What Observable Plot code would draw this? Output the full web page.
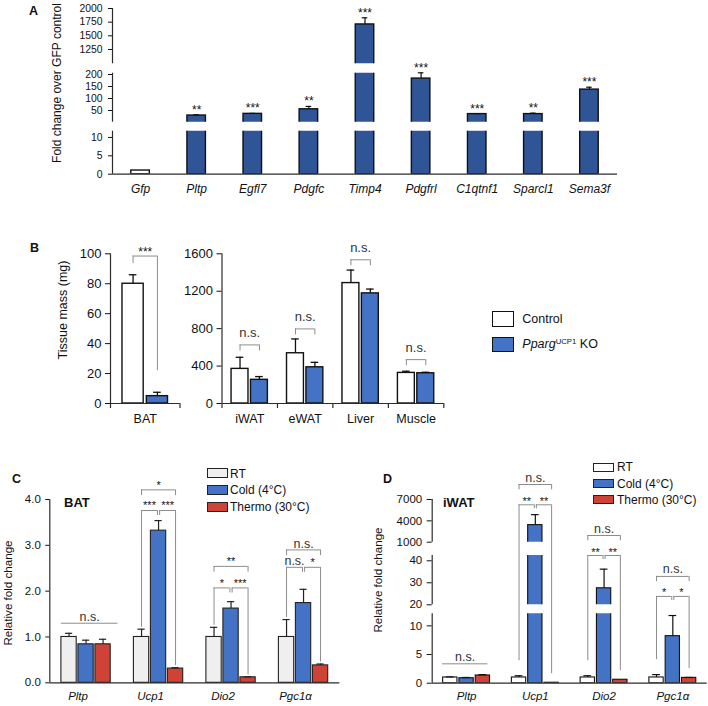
<!DOCTYPE html>
<html>
<head>
<meta charset="utf-8">
<script src="https://cdn.jsdelivr.net/npm/d3@7"></script>
<script src="https://cdn.jsdelivr.net/npm/@observablehq/plot@0.6"></script>
<style>
  html, body { margin: 0; padding: 0; background: #fff; }
  #fig { position: relative; width: 708px; height: 706px; overflow: hidden; background: #fff;
         font-family: Arial, "Liberation Sans", Helvetica, sans-serif; color: #111; }
  #fig svg { position: absolute; left: 0; top: 0; }
  .lbl { position: absolute; white-space: nowrap; line-height: 1; }
  .sw { position: absolute; box-sizing: border-box; }
  sup { font-size: 0.62em; vertical-align: 0; position: relative; top: -0.55em; font-style: normal; }
</style>
</head>
<body>
<div id="fig"></div>
<script>
// ======================= DATA =======================
// Panel A – fold change over GFP control
const genesA = ["Gfp", "Pltp", "Egfl7", "Pdgfc", "Timp4", "Pdgfrl", "C1qtnf1", "Sparcl1", "Sema3f"];
const foldA  = [1, 29, 36, 55, 1708, 183, 35, 35, 137];
const errA   = [0, 3, 2, 12, 122, 24, 2, 4, 10];
const sigA   = ["", "**", "***", "**", "***", "***", "***", "**", "***"];
const domainsA = [[0, 11.7], [1.25, 205.4], [988, 2000]];
const ticksA   = [[0, 5, 10], [50, 100, 150, 200], [1250, 1500, 1750, 2000]];

// Panel B – tissue mass (mg)
const tissuesB   = ["BAT", "iWAT", "eWAT", "Liver", "Muscle"];
const groupsB    = ["Control", "KO"];
const massCtrl    = [80, 370, 537, 1287, 327];
const massCtrlErr = [6, 124, 153, 139, 18];
const massKO      = [4.9, 253, 387, 1177, 323];
const massKOErr   = [2.6, 35, 53, 46, 11];
const sigB        = ["***", "n.s.", "n.s.", "n.s.", "n.s."];
const levelB      = [98.5, 626, 797, 1536, 469];
const legEndB     = 22;   // BAT bracket: right leg end (mg)
const ticksBL = [0, 20, 40, 60, 80, 100];
const ticksBR = [0, 400, 800, 1200, 1600];

// Panels C & D – relative fold change
const genesCD = ["Pltp", "Ucp1", "Dio2", "Pgc1α"];
const conds   = ["RT", "Cold (4°C)", "Thermo (30°C)"];
// C: BAT
const batRT        = [1.00, 1.00, 1.00, 1.00];
const batRTErr     = [0.08, 0.17, 0.21, 0.38];
const batCold      = [0.84, 3.32, 1.62, 1.74];
const batColdErr   = [0.09, 0.22, 0.15, 0.30];
const batThermo    = [0.84, 0.31, 0.12, 0.38];
const batThermoErr = [0.11, 0.02, 0.01, 0.03];
const sigC_RTvsCold     = [null, "***", "*", "n.s."];
const sigC_ColdvsThermo = [null, "***", "***", "*"];
const sigC_RTvsThermo   = ["n.s.", "*", "**", "n.s."];
const levelC_pair  = [null, 3.76, 2.07, 2.52];
const levelC_outer = [1.30, 4.21, 2.54, 2.90];
const ticksC = [0, 1, 2, 3, 4];
// D: iWAT
const iwatRT        = [1.0, 1.0, 1.0, 1.0];
const iwatRTErr     = [0.1, 0.3, 0.3, 0.5];
const iwatCold      = [0.87, 3400, 27.5, 8.2];
const iwatColdErr   = [0.13, 1470, 8.7, 3.6];
const iwatThermo    = [1.34, 0.08, 0.6, 0.93];
const iwatThermoErr = [0.16, 0, 0, 0.07];
const sigD_RTvsCold     = [null, "**", "**", "*"];
const sigD_ColdvsThermo = [null, "**", "**", "*"];
const sigD_RTvsThermo   = ["n.s.", "n.s.", "n.s.", "n.s."];
const levelD_pair  = [null, 6255, 42.4, 23.8];
const levelD_outer = [3.38, 9107, 1941, 32.9];
const domainsD = [[0, 12.1], [20, 42.4], [1000, 7000]];
const ticksD   = [[0, 5, 10], [20, 30, 40], [1000, 4000, 7000]];

// ======================= STYLE / LAYOUT =======================
const FONT = 'Arial, "Liberation Sans", Helvetica, sans-serif';
const W = 708, H = 706;
const AXIS = "#2b2b2b", BR = "#8c8c8c", INK = "#111";
const COL = { blueA: "#2f5597", blue: "#4472c4", red: "#cf4236", rtC: "#efefef", white: "#ffffff" };
const fillC = [COL.rtC, COL.blue, COL.red];
const fillD = [COL.white, COL.blue, COL.red];

const fig = document.getElementById("fig");
const frame = (x0, x1, y0, y1) => ({ width: W, height: H, marginLeft: x0, marginRight: W - x1, marginTop: y0, marginBottom: H - y1 });

function addPlot(opts, fontSize = 12) {
  const svg = Plot.plot({
    ...opts,
    style: { background: "transparent", overflow: "visible", fontFamily: FONT, fontSize: fontSize + "px", color: INK }
  });
  svg.style.position = "absolute"; svg.style.left = "0px"; svg.style.top = "0px";
  fig.appendChild(svg);
  return svg;
}

function label(text, x, y, o = {}) {
  const d = document.createElement("div");
  d.className = "lbl";
  d.style.left = x + "px"; d.style.top = y + "px";
  d.style.fontSize = (o.size || 12) + "px";
  if (o.bold) d.style.fontWeight = "bold";
  if (o.italic) d.style.fontStyle = "italic";
  const tx = o.anchor === "center" ? "-50%" : o.anchor === "right" ? "-100%" : "0";
  d.style.transform = o.rotate ? "translate(-50%,-50%) rotate(-90deg)" : `translate(${tx},-50%)`;
  if (o.html) d.innerHTML = text; else d.textContent = text;
  fig.appendChild(d);
}
function swatch(x, y, w, h, fill, border) {
  const d = document.createElement("div");
  d.className = "sw";
  Object.assign(d.style, { left: x + "px", top: y + "px", width: w + "px", height: h + "px", background: fill, border });
  fig.appendChild(d);
}

// significance brackets: horizontal rule, legs (short = fixed px, long = down to a value), label
function bracketMarks(brs, o) {
  const legs = brs.flatMap(b => (b.legs || []).map(l => ({
    x: l.x, y1: b.level, y2: l.end == null ? b.level : l.end, inset: l.end == null ? -l.len : (l.gap || 0)
  })));
  const groups = d3.groups(legs, d => d.inset);
  const isNS = b => b.label === "n.s.";
  return [
    Plot.ruleY(brs, { y: "level", x1: "xa", x2: "xb", stroke: BR, strokeWidth: 1 }),
    ...groups.map(([inset, ls]) => Plot.ruleX(ls, { x: "x", y1: "y1", y2: "y2", insetBottom: inset, stroke: BR, strokeWidth: 1 })),
    Plot.text(brs.filter(b => b.label && !isNS(b)), { x: b => (b.xa + b.xb) / 2, y: "level", text: "label",
      lineAnchor: "bottom", dy: o.starDy, fontSize: o.starSize, fill: INK }),
    Plot.text(brs.filter(isNS), { x: b => (b.xa + b.xb) / 2, y: "level", text: "label",
      lineAnchor: "bottom", dy: o.nsDy, fontSize: o.nsSize, fill: "#333" })
  ];
}

// one segment of a broken-axis bar chart
function segmentPlot(cfg, seg, k) {
  const [lo, hi] = seg.domain;
  const nextLo = k < cfg.segs.length - 1 ? cfg.segs[k + 1].domain[0] : Infinity;
  const here = d => d.v > lo && d.v <= nextLo;
  const base = k === 0 ? lo : lo - (hi - lo);
  const xOf = cfg.xOf, bw = cfg.bw, cap = cfg.cap;
  const withErr = cfg.rows.filter(d => here(d) && d.e > 0);
  return addPlot({
    ...frame(cfg.x0, cfg.x1, seg.y0, seg.y1),
    x: { domain: [0, cfg.n], axis: null },
    y: { domain: seg.domain, ticks: seg.ticks, tickSize: cfg.tickSize, tickPadding: cfg.tickPadding,
         tickFormat: d3.format("d"), label: null },
    marks: [
      Plot.rect(cfg.rows.filter(d => d.v > lo), { x1: d => xOf(d) - bw / 2, x2: d => xOf(d) + bw / 2,
        y1: base, y2: "v", fill: cfg.fillOf, stroke: INK, strokeWidth: cfg.sw, clip: true }),
      Plot.ruleX(withErr, { x: xOf, y1: "v", y2: d => d.v + d.e, stroke: INK, strokeWidth: 1.2 }),
      Plot.ruleY(withErr, { y: d => d.v + d.e, x1: d => xOf(d) - cap, x2: d => xOf(d) + cap, stroke: INK, strokeWidth: 1.2 }),
      Plot.ruleX([0], { y1: lo, y2: hi, stroke: AXIS, strokeWidth: 1.2 }),
      ...(cfg.extra ? cfg.extra(here, k) : [])
    ]
  }, cfg.fontSize);
}

// ======================= PANEL A =======================
const rowsA = genesA.map((gene, i) => ({ gene, i, v: foldA[i], e: errA[i], sig: sigA[i] }));
const pxA = [[130.7, 173.7], [72.7, 121.7], [8, 63.3]];
const cfgA = {
  x0: 112, x1: 617, n: genesA.length, rows: rowsA, xOf: d => d.i + 0.5, bw: 0.33, cap: 0.05,
  fillOf: d => d.i === 0 ? COL.white : COL.blueA, sw: 1.4, tickSize: 4, tickPadding: 6, fontSize: 10.4,
  segs: domainsA.map((domain, k) => ({ domain, ticks: ticksA[k], y0: pxA[k][0], y1: pxA[k][1] })),
  extra: (here, k) => [
    Plot.text(rowsA.filter(d => here(d) && d.sig), { x: d => d.i + 0.5, y: d => d.v + d.e, text: "sig",
      lineAnchor: "bottom", dy: -1, fontSize: 12 }),
    ...(k === 0 ? [
      Plot.ruleY([0], { stroke: AXIS, strokeWidth: 1.2 }),
      Plot.text(rowsA, { x: d => d.i + 0.5, text: "gene", frameAnchor: "bottom", lineAnchor: "middle",
        dy: 14.5, fontStyle: "italic", fontSize: 12 })
    ] : [])
  ]
};
cfgA.segs.forEach((s, k) => segmentPlot(cfgA, s, k));

// ======================= PANEL B =======================
const rowsB = tissuesB.flatMap((t, i) => [
  { t, i, grp: 0, v: massCtrl[i], e: massCtrlErr[i] },
  { t, i, grp: 1, v: massKO[i], e: massKOErr[i] }
]);
const offB = 0.175, bwB = 0.305;
function panelB(rows, gOf, n, x0, x1, domain, ticks, cap, brackets, nsDy) {
  const xOf = d => gOf(d) + 0.5 + (d.grp ? offB : -offB);
  const cats = [...new Set(rows.map(d => d.t))];
  addPlot({
    ...frame(x0, x1, 253.3, 403),
    x: { domain: [0, n], axis: null },
    y: { domain, ticks, tickSize: 5, tickPadding: 4, tickFormat: d3.format("d"), label: null },
    marks: [
      Plot.rect(rows, { x1: d => xOf(d) - bwB / 2, x2: d => xOf(d) + bwB / 2, y1: 0, y2: "v",
        fill: d => d.grp ? COL.blue : COL.white, stroke: INK, strokeWidth: 1.4 }),
      Plot.ruleX(rows, { x: xOf, y1: "v", y2: d => d.v + d.e, stroke: INK, strokeWidth: 1.3 }),
      Plot.ruleY(rows, { y: d => d.v + d.e, x1: d => xOf(d) - cap, x2: d => xOf(d) + cap, stroke: INK, strokeWidth: 1.3 }),
      Plot.ruleX([0], { y1: domain[0], y2: domain[1], stroke: AXIS, strokeWidth: 1.2 }),
      Plot.ruleY([0], { stroke: AXIS, strokeWidth: 1.2 }),
      Plot.ruleX(d3.range(n + 1), { x: d => d, y1: 0, y2: 0, insetBottom: -5, stroke: AXIS, strokeWidth: 1.2 }),
      Plot.text(cats, { x: (d, i) => i + 0.5, text: d => d, frameAnchor: "bottom", lineAnchor: "middle", dy: 15.5, fontSize: 12.5 }),
      ...bracketMarks(brackets, { starDy: 0, starSize: 12, nsDy: nsDy, nsSize: 13 })
    ]
  }, 13);
}
// left: BAT
{
  const rows = rowsB.filter(d => d.i === 0);
  const xa = 0.5 - offB, xb = 0.5 + offB;
  const br = [{ xa, xb, level: levelB[0], label: sigB[0],
    legs: [{ x: xa, len: 7.5 }, { x: xb, end: legEndB }] }];
  panelB(rows, d => 0, 1, 110, 179.5, [0, 100], ticksBL, 0.055, br, -8);
}
// right: other tissues
{
  const rows = rowsB.filter(d => d.i > 0);
  const br = tissuesB.slice(1).map((t, g) => ({ xa: g + 0.5 - offB, xb: g + 0.5 + offB, level: levelB[g + 1], label: sigB[g + 1],
    legs: [{ x: g + 0.5 - offB, len: 6 }, { x: g + 0.5 + offB, len: 6 }] }));
  panelB(rows, d => d.i - 1, 4, 221.5, 443.3, [0, 1600], ticksBR, 0.069, br, -8);
}

// ======================= PANEL C =======================
const stepC = 0.2345, bwC = 0.211, capC = 0.05;
const meanC = [batRT, batCold, batThermo], errC = [batRTErr, batColdErr, batThermoErr];
const rowsC = genesCD.flatMap((gene, gi) => conds.map((c, j) => ({ gene, gi, j, v: meanC[j][gi], e: errC[j][gi] })));
const xC = d => d.gi + 0.5 + (d.j - 1) * stepC;

function buildBrackets(meanArr, errArr, step, pairLv, outerLv, s1, s2, s3, o) {
  const out = [];
  genesCD.forEach((g, gi) => {
    const c = gi + 0.5;
    if (pairLv[gi] == null) {
      out.push({ xa: c + o.nsLeft, xb: c + o.nsRight, level: outerLv[gi], label: s3[gi], legs: [] });
      return;
    }
    const xr = c - step, xt = c + step;
    const topR = meanArr[0][gi] + errArr[0][gi], topT = meanArr[2][gi] + errArr[2][gi];
    out.push({ xa: xr, xb: c - 0.015, level: pairLv[gi], label: s1[gi],
      legs: [{ x: xr, end: topR, gap: o.gapR }, { x: c - 0.015, len: o.midLen }] });
    out.push({ xa: c + 0.015, xb: xt, level: pairLv[gi], label: s2[gi],
      legs: [{ x: c + 0.015, len: o.midLen }, { x: xt, end: topT, gap: o.gapT }] });
    out.push({ xa: xr, xb: xt, level: outerLv[gi], label: s3[gi],
      legs: [{ x: xr, len: o.topLen }, { x: xt, len: o.topLen }] });
  });
  return out;
}

const bracketsC = buildBrackets(meanC, errC, stepC, levelC_pair, levelC_outer, sigC_RTvsCold, sigC_ColdvsThermo, sigC_RTvsThermo,
  { nsLeft: -0.34, nsRight: 0.44, gapR: 2, gapT: 2, midLen: 5, topLen: 5.7 });

addPlot({
  ...frame(49.3, 339.3, 499, 682.3),
  x: { domain: [0, 4], axis: null },
  y: { domain: [0, 4], ticks: ticksC, tickSize: 4, tickPadding: 5, tickFormat: d3.format(".1f"), label: null },
  marks: [
    Plot.rect(rowsC, { x1: d => xC(d) - bwC / 2, x2: d => xC(d) + bwC / 2, y1: 0, y2: "v",
      fill: d => fillC[d.j], stroke: "#222", strokeWidth: 1.1 }),
    Plot.ruleX(rowsC, { x: xC, y1: "v", y2: d => d.v + d.e, stroke: "#222", strokeWidth: 1.2 }),
    Plot.ruleY(rowsC, { y: d => d.v + d.e, x1: d => xC(d) - capC, x2: d => xC(d) + capC, stroke: "#222", strokeWidth: 1.2 }),
    Plot.ruleX([0], { y1: 0, y2: 4, stroke: AXIS, strokeWidth: 1.2 }),
    Plot.ruleY([0], { stroke: AXIS, strokeWidth: 1.2 }),
    Plot.text(genesCD, { x: (d, i) => i + 0.5, text: d => d, frameAnchor: "bottom", lineAnchor: "middle",
      dy: 13.7, dx: -8, fontStyle: "italic", fontSize: 11.5 }),
    ...bracketMarks(bracketsC, { starDy: -1, starSize: 11, nsDy: -2, nsSize: 12.5 })
  ]
}, 11.5);

// ======================= PANEL D =======================
const stepD = 0.237, bwD = 0.208, capD = 0.056;
const meanD = [iwatRT, iwatCold, iwatThermo], errD = [iwatRTErr, iwatColdErr, iwatThermoErr];
const rowsD = genesCD.flatMap((gene, gi) => conds.map((c, j) => ({ gene, gi, j, v: meanD[j][gi], e: errD[j][gi] })));
const xD = d => d.gi + 0.5 + (d.j - 1) * stepD;
const pxD = [[613.3, 682.7], [555, 604.3], [499, 541.7]];
const cfgD = {
  x0: 431.7, x1: 706.7, n: 4, rows: rowsD, xOf: xD, bw: bwD, cap: capD,
  fillOf: d => fillD[d.j], sw: 1.1, tickSize: 5, tickPadding: 5, fontSize: 11.5,
  segs: domainsD.map((domain, k) => ({ domain, ticks: ticksD[k], y0: pxD[k][0], y1: pxD[k][1] })),
  extra: (here, k) => k === 0 ? [
    Plot.ruleY([0], { stroke: AXIS, strokeWidth: 1.2 }),
    Plot.text(genesCD, { x: (d, i) => i + 0.5, text: d => d, frameAnchor: "bottom", lineAnchor: "middle",
      dy: 13.3, fontStyle: "italic", fontSize: 11.5 })
  ] : []
};
cfgD.segs.forEach((s, k) => segmentPlot(cfgD, s, k));

// bracket overlay with a piecewise scale matching the broken axis
const bracketsD = buildBrackets(meanD, errD, stepD, levelD_pair, levelD_outer, sigD_RTvsCold, sigD_ColdvsThermo, sigD_RTvsThermo,
  { nsLeft: -0.35, nsRight: 0.31, gapR: 15, gapT: 9, midLen: 4, topLen: 5.3 });
addPlot({
  ...frame(431.7, 706.7, 499, 682.7),
  x: { domain: [0, 4], axis: null },
  y: { type: "linear", domain: domainsD.flat(), range: pxD.flatMap(p => [p[1], p[0]]), axis: null },
  marks: bracketMarks(bracketsD, { starDy: 0, starSize: 11, nsDy: -3, nsSize: 12.5 })
}, 12);

// ======================= TEXT, LEGENDS =======================
label("A", 29, 11, { size: 12.5, bold: true });
label("B", 30, 248, { size: 12.5, bold: true });
label("C", 12, 479, { size: 12.5, bold: true });
label("D", 383, 479, { size: 12.5, bold: true });

label("Fold change over GFP control", 57, 83, { size: 12, rotate: true });
label("Tissue mass (mg)", 63, 310, { size: 12.5, rotate: true });
label("Relative fold change", 8, 592.5, { size: 11.6, rotate: true });
label("Relative fold change", 378, 580, { size: 11.6, rotate: true });

label("BAT", 64, 501.5, { size: 13, bold: true });
label("iWAT", 443, 501.5, { size: 13, bold: true });

// legend B
const legB = [
  { text: groupsB[0], fill: COL.white, html: false },
  { text: "<i>Pparg</i><sup>UCP1</sup> KO", fill: COL.blue, html: true }
];
legB.forEach((l, i) => {
  swatch(491.7, 311 + i * 25.5, 22.6, 15.7, l.fill, "1.5px solid #111");
  label(l.text, 522.3, 319 + i * 25.3, { size: 12.5, html: l.html });
});
// legend C
conds.forEach((c, j) => {
  swatch(206.7, 468.3 + j * 16.7, 21, 10, fillC[j], "1.2px solid #222");
  label(c, 230, 473.5 + j * 16.5, { size: 12 });
});
// legend D
conds.forEach((c, j) => {
  swatch(593.3, 462.7 + j * 16.2, 20.7, 9.3, fillD[j], "1.2px solid #222");
  label(c, 617, 467.3 + j * 16.2, { size: 12 });
});
</script>
</body>
</html>
